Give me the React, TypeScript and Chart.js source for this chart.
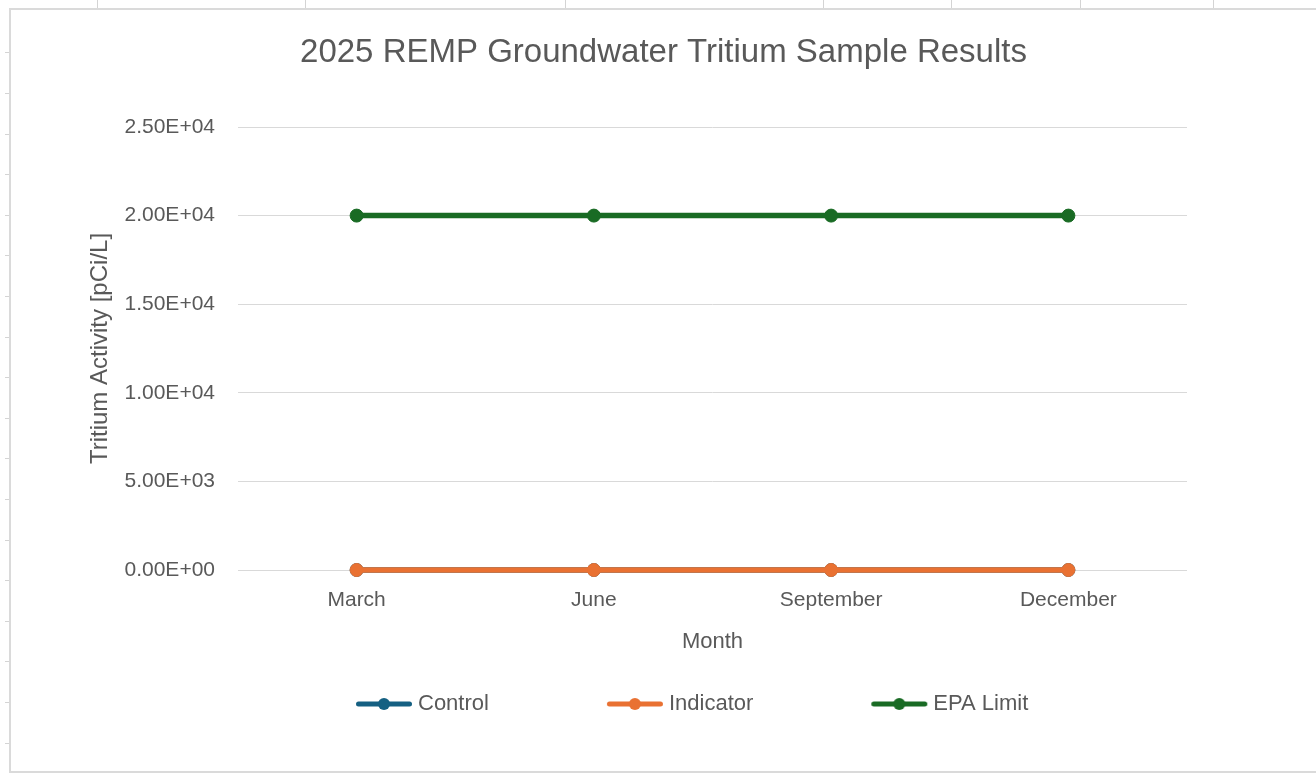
import React, { useEffect, useRef } from "react";
import { Chart, registerables } from "chart.js";

Chart.register(...registerables);

// ---- data ----
const months = ["March", "June", "September", "December"];
const controlValues = [0, 0, 0, 0];
const indicatorValues = [0, 0, 0, 0];
const epaLimitValues = [20000, 20000, 20000, 20000];
const seriesNames = ["Control", "Indicator", "EPA Limit"];
const seriesColors = ["#156082", "#E97132", "#196B24"];
const yMin = 0;
const yMax = 25000;
const yStep = 5000;
const chartTitle = "2025 REMP Groundwater Tritium Sample Results";
const xAxisTitle = "Month";
const yAxisTitle = "Tritium Activity [pCi/L]";

// ---- styling constants ----
const TEXT = "#595959";
const GRID = "#d9d9d9";
const FONT = "'Liberation Sans', Arial, sans-serif";
const CANVAS_W = 1305;
const CANVAS_H = 761;
const LEG_BOX = 159;
const LEG_EXT = 7;

function sci(v: number): string {
  if (v === 0) return "0.00E+00";
  const e = Math.floor(Math.log10(Math.abs(v)));
  const m = v / Math.pow(10, e);
  const sign = e < 0 ? "-" : "+";
  return m.toFixed(2) + "E" + sign + String(Math.abs(e)).padStart(2, "0");
}

function makeMarker(color: string): HTMLCanvasElement {
  const c = document.createElement("canvas");
  c.width = LEG_BOX + 2 * LEG_EXT;
  c.height = 16;
  const ctx = c.getContext("2d")!;
  const x2 = c.width - 2;
  const x1 = x2 - 56;
  ctx.strokeStyle = color;
  ctx.lineWidth = 5;
  ctx.lineCap = "round";
  ctx.beginPath();
  ctx.moveTo(x1 + 2.5, 8);
  ctx.lineTo(x2 - 2.5, 8);
  ctx.stroke();
  ctx.fillStyle = color;
  ctx.beginPath();
  ctx.arc((x1 + x2) / 2, 8, 6, 0, Math.PI * 2);
  ctx.fill();
  return c;
}

export default function App() {
  const ref = useRef<HTMLCanvasElement | null>(null);

  useEffect(() => {
    if (!ref.current) return;
    const seriesData = [controlValues, indicatorValues, epaLimitValues];
    const orders = [2, 1, 0];
    const markers = seriesColors.map((c) => makeMarker(c));
    const chart = new Chart(ref.current, {
      type: "line",
      data: {
        labels: months,
        datasets: seriesNames.map((name, i) => ({
          label: name,
          data: seriesData[i],
          borderColor: seriesColors[i],
          backgroundColor: seriesColors[i],
          pointBackgroundColor: seriesColors[i],
          pointBorderColor: seriesColors[i],
          borderWidth: 5.5,
          pointRadius: 6.5,
          pointBorderWidth: 1,
          tension: 0,
          fill: false,
          clip: false,
          order: orders[i],
          yAxisID: "y",
        })),
      },
      options: {
        responsive: false,
        animation: false,
        devicePixelRatio: 1,
        layout: { padding: { top: 0, left: 0, right: 0, bottom: 46 } },
        plugins: {
          tooltip: { enabled: false },
          title: {
            display: true,
            text: chartTitle,
            color: TEXT,
            font: { family: FONT, size: 33, weight: "normal" },
            padding: { top: 23.5, bottom: 53.9 },
          },
          legend: {
            display: true,
            position: "bottom",
            align: "start",
            fullSize: false,
            labels: {
              usePointStyle: true,
              pointStyleWidth: LEG_BOX,
              padding: 10,
              color: TEXT,
              font: { family: FONT, size: 22 },
              generateLabels: () =>
                seriesNames.map((name, i) => ({
                  text: name,
                  fillStyle: seriesColors[i],
                  strokeStyle: seriesColors[i],
                  fontColor: TEXT,
                  lineWidth: 0,
                  hidden: false,
                  datasetIndex: i,
                  pointStyle: markers[i],
                })),
            },
          },
        },
        scales: {
          x: {
            type: "category",
            offset: true,
            grid: { display: false, drawTicks: false },
            border: { display: false },
            ticks: {
              color: TEXT,
              font: { family: FONT, size: 21 },
              padding: 17.4,
              maxRotation: 0,
            },
            title: {
              display: true,
              text: xAxisTitle,
              color: TEXT,
              font: { family: FONT, size: 22 },
              padding: { top: 0, bottom: 27.8 },
            },
            afterFit: (s: any) => {
              s.height = 113;
            },
          },
          y: {
            type: "linear",
            position: "left",
            min: yMin,
            max: yMax,
            grid: { color: GRID, lineWidth: 1, drawTicks: false },
            border: { display: false },
            ticks: {
              stepSize: yStep,
              color: TEXT,
              font: { family: FONT, size: 21 },
              padding: 23,
              callback: (v: any) => sci(Number(v)),
            },
            title: {
              display: true,
              text: yAxisTitle,
              color: TEXT,
              font: { family: FONT, size: 24 },
              padding: { top: 74.6, bottom: 0 },
            },
            afterFit: (s: any) => {
              s.width = 227;
            },
          },
          y2: {
            type: "linear",
            position: "right",
            display: true,
            grid: { display: false, drawTicks: false },
            border: { display: false },
            ticks: { display: false },
            afterFit: (s: any) => {
              s.width = 129;
            },
          },
        },
      } as any,
    });
    return () => chart.destroy();
  }, []);

  const topTicks = [97, 305, 565, 823, 951, 1080, 1213];
  const leftTicks: number[] = [];
  for (let y = 52.3; y < 773; y += 40.6) leftTicks.push(Math.round(y));

  return (
    <div
      style={{
        position: "fixed",
        left: 0,
        top: 0,
        width: 1316,
        height: 773,
        overflow: "hidden",
        background: "#ffffff",
      }}
    >
      {topTicks.map((x) => (
        <div
          key={"t" + x}
          style={{ position: "absolute", left: x, top: 0, width: 1, height: 8, background: "#d4d4d4" }}
        />
      ))}
      {leftTicks.map((y) => (
        <div
          key={"l" + y}
          style={{ position: "absolute", left: 5, top: y, width: 4, height: 1, background: "#d4d4d4" }}
        />
      ))}
      <div
        style={{
          position: "absolute",
          left: 9,
          top: 8,
          width: CANVAS_W + 20,
          height: CANVAS_H,
          borderTop: "2px solid #dadada",
          borderLeft: "2px solid #dadada",
          borderBottom: "2px solid #dadada",
          background: "#ffffff",
        }}
      >
        <canvas ref={ref} width={CANVAS_W} height={CANVAS_H} style={{ display: "block" }} />
      </div>
    </div>
  );
}
